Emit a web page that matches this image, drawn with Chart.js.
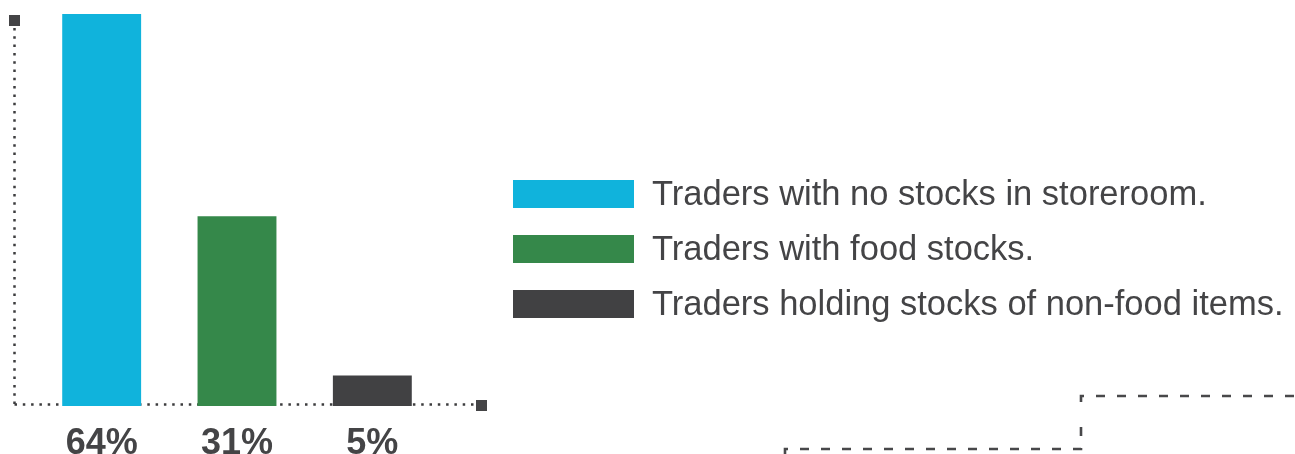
<!DOCTYPE html>
<html>
<head>
<meta charset="utf-8">
<script src="https://cdn.jsdelivr.net/npm/chart.js@4.4.1/dist/chart.umd.min.js"></script>
<style>
  html, body { margin: 0; padding: 0; background: #fff; }
  #wrap { width: 1295px; height: 454px; position: relative; }
</style>
</head>
<body>
<div id="wrap"><canvas id="stocksChart" width="1295" height="454"></canvas></div>
<script>
// Données : part des commerçants selon leurs stocks
const categories = [
    'Traders with no stocks in storeroom.',
    'Traders with food stocks.',
    'Traders holding stocks of non-food items.'
];
const shares = [64, 31, 5];
const tickLabels = ['64%', '31%', '5%'];
const barColors = ['#10b3dc', '#35884a', '#414143'];

const FONT = '"Liberation Sans", Arial, Helvetica, sans-serif';
const INK = '#444446';

// Axes pointillés, carrés aux extrémités, légende et ligne en escalier
const decorPlugin = {
    id: 'decor',
    beforeDatasetsDraw(chart) {
        const ctx = chart.ctx;
        const area = chart.chartArea;
        const x0 = area.left - 19.5;
        const yBase = area.bottom - 1.5;
        const xEnd = area.right + 36;

        ctx.save();
        ctx.strokeStyle = '#3c3c3e';
        ctx.lineWidth = 2.5;
        ctx.setLineDash([2.5, 5.8]);
        ctx.beginPath();
        ctx.moveTo(x0, area.top + 14);
        ctx.lineTo(x0, yBase);
        ctx.moveTo(x0, yBase);
        ctx.lineTo(xEnd, yBase);
        ctx.stroke();
        ctx.setLineDash([]);

        ctx.fillStyle = INK;
        ctx.fillRect(x0 - 5.5, area.top + 1, 11, 11);
        ctx.fillRect(xEnd, yBase - 4.5, 11, 11);
        ctx.restore();
    },
    afterDraw(chart) {
        const ctx = chart.ctx;
        const area = chart.chartArea;
        const legendX = area.right + 73;
        const boxW = 121, boxH = 28, rowGap = 55, firstTop = 180;

        ctx.save();
        ctx.font = '34.5px ' + FONT;
        ctx.textBaseline = 'alphabetic';
        ctx.textAlign = 'left';
        categories.forEach((label, i) => {
            const top = firstTop + i * rowGap;
            ctx.fillStyle = barColors[i];
            ctx.fillRect(legendX, top, boxW, boxH);
            ctx.fillStyle = INK;
            ctx.fillText(label, legendX + boxW + 18, top + 25);
        });

        // ligne en escalier en bas à droite (deux tronçons pour garder les coins)
        ctx.strokeStyle = '#48484a';
        ctx.lineWidth = 2.6;
        ctx.setLineDash([9, 12]);
        ctx.beginPath();
        ctx.moveTo(785, 455);
        ctx.lineTo(785, 449);
        ctx.lineTo(1081, 449);
        ctx.lineTo(1081, 418);
        ctx.stroke();
        ctx.beginPath();
        ctx.moveTo(1081, 402);
        ctx.lineTo(1081, 396);
        ctx.lineTo(1300, 396);
        ctx.stroke();
        ctx.restore();
    }
};

new Chart(document.getElementById('stocksChart'), {
    type: 'bar',
    data: {
        labels: tickLabels,
        datasets: [{
            label: 'Traders',
            data: shares,
            backgroundColor: barColors,
            borderWidth: 0,
            categoryPercentage: 1,
            barPercentage: 0.583
        }]
    },
    options: {
        responsive: false,
        animation: false,
        devicePixelRatio: 1,
        layout: {
            padding: { left: 34, right: 855, top: 14, bottom: 0 }
        },
        plugins: {
            legend: { display: false },
            tooltip: { enabled: false }
        },
        scales: {
            x: {
                grid: { display: false, drawTicks: false },
                border: { display: false },
                ticks: {
                    padding: 16,
                    color: INK,
                    font: { family: FONT, size: 36, weight: 'bold' }
                },
                afterFit(scale) {
                    scale.height = 48;
                }
            },
            y: {
                display: false,
                min: 0,
                max: 64
            }
        }
    },
    plugins: [decorPlugin]
});
</script>
</body>
</html>
